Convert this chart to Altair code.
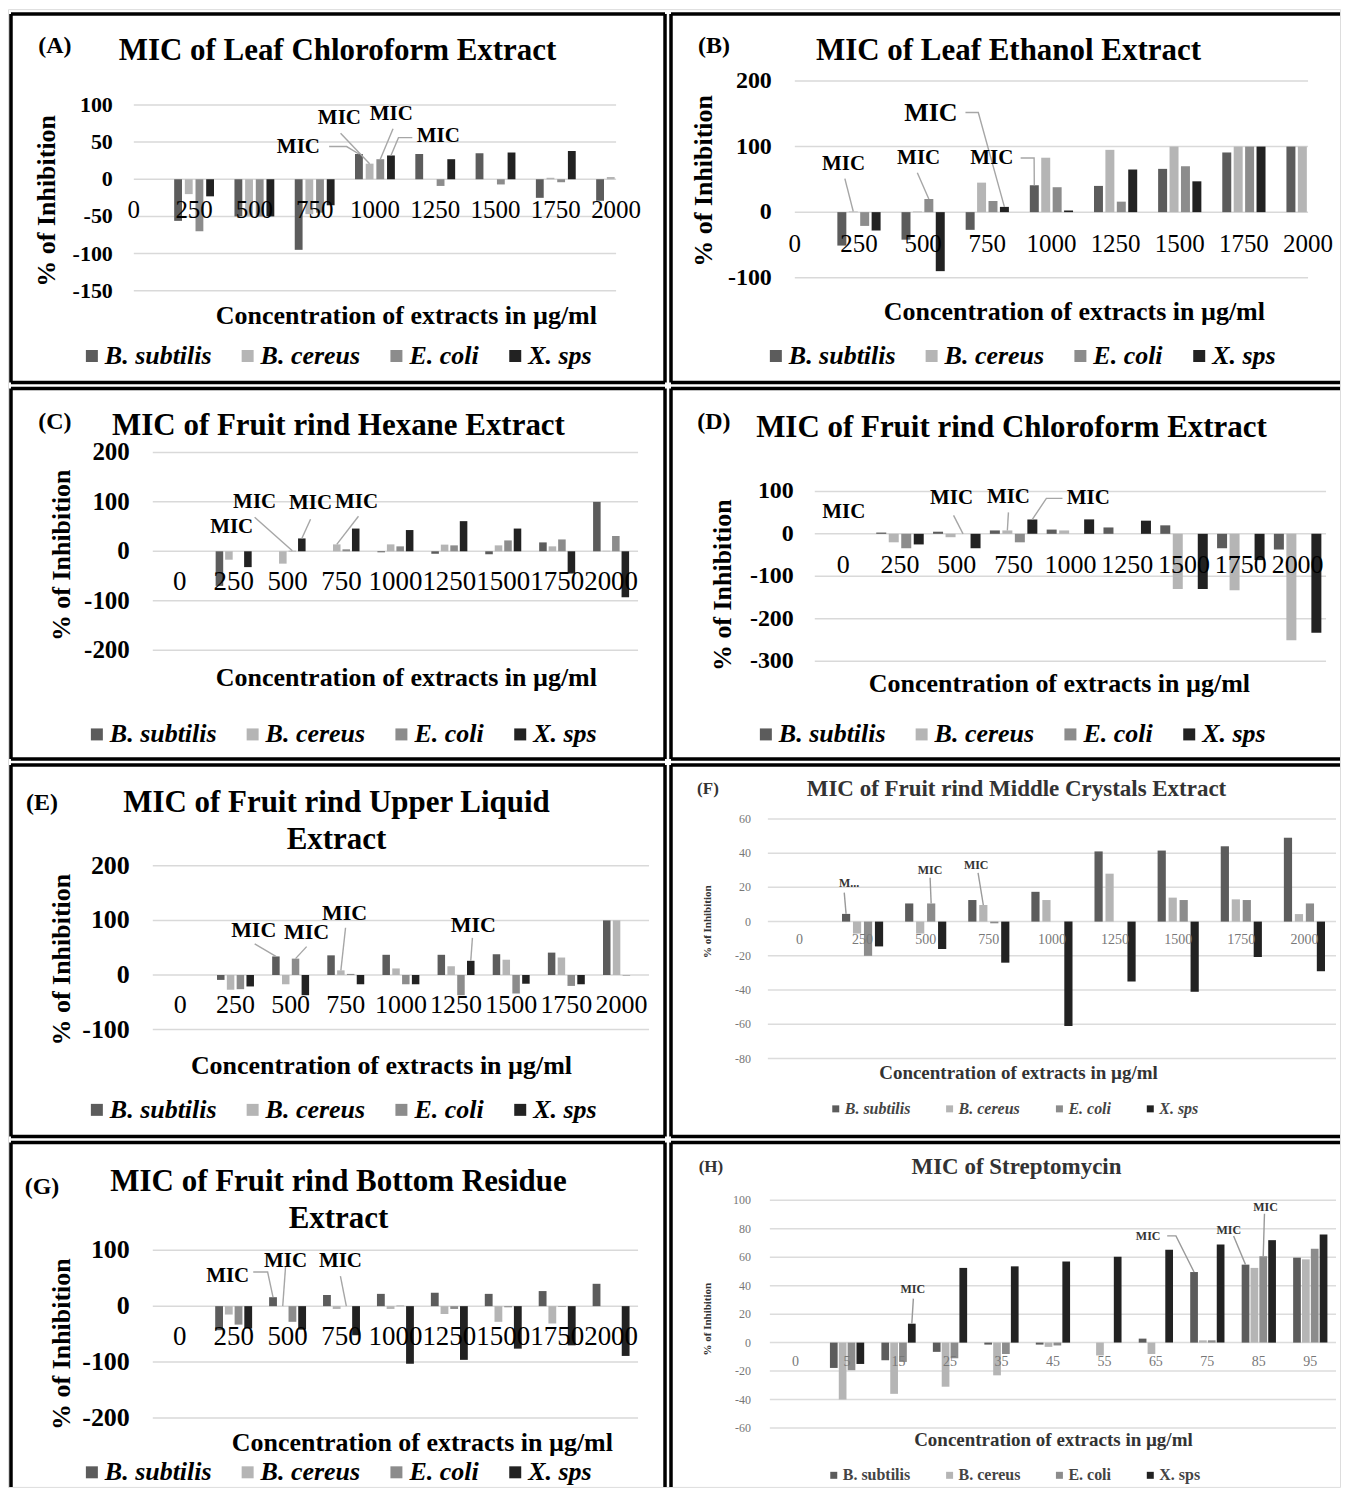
import altair as alt
import pandas as pd

FONT = "Liberation Serif"
SERIES = ["B. subtilis", "B. cereus", "E. coli", "X. sps"]
COLORS = ["#5c5c5c", "#b5b5b5", "#8c8c8c", "#222222"]
CONC = ["0", "250", "500", "750", "1000", "1250", "1500", "1750", "2000"]
STREP = ["0", "5", "15", "25", "35", "45", "55", "65", "75", "85", "95"]

# ---------------- data (% inhibition) ----------------
A_BSUB = [0, -56, -50, -95, 34, 34, 35, -25, -29]
A_BCER = [0, -20, -50, -47, 21, 0, 0, 2, 3]
A_ECOLI = [0, -70, -50, -45, 27, -9, -7, -4, 0]
A_XSPS = [0, -23, -50, -35, 32, 27, 36, 38, 0]

B_BSUB = [0, -51, -42, -27, 41, 40, 66, 91, 100]
B_BCER = [0, 1, 1, 45, 83, 95, 100, 100, 100]
B_ECOLI = [0, -21, 20, 17, 38, 16, 70, 100, 100]
B_XSPS = [0, -28, -90, 8, 2.5, 65, 47, 100, 100]

C_BSUB = [0, -70, 0, 0, -2, -5, -6, 18, 100]
C_BCER = [0, -17, -25, 14, 14, 13.5, 12, 10, 1]
C_ECOLI = [0, 0, 1, 4, 10, 12, 22, 24, 31]
C_XSPS = [0, -32, 26, 46, 43, 61, 46, -45, -93]

D_BSUB = [0, 3, 5, 8, 10, 15, 20, -34, -37]
D_BCER = [0, -20, -8, 8, 8, 0, -130, -133, -251]
D_ECOLI = [0, -34, 0, -20, 0, 0, 0, 0, 0]
D_XSPS = [0, -25, -34, 34, 34, 31, -130, -62, -233]

E_BSUB = [0, -9, 34, 36, 37, 37, 38, 41, 100]
E_BCER = [0, -27, -17, 8.5, 12, 16, 28, 32, 100]
E_ECOLI = [0, -26, 30, 2, -17, -37, -34, -20, -1]
E_XSPS = [0, -21, -37, -17, -17, 26, -16, -17, 0]

F_BSUB = [0, 4.5, 10.6, 12.6, 17.4, 41, 41.5, 44, 49]
F_BCER = [0, -7, -7, 9.7, 12.6, 28, 14, 13, 4.4]
F_ECOLI = [0, -20, 10.6, -1, 0, 0, 12.6, 12.6, 10.6]
F_XSPS = [0, -14.5, -16, -24, -61, -35, -41, -20.7, -29]

G_BSUB = [0, -43, 16, 20, 22, 24, 22, 27, 40]
G_BCER = [0, -15, 0, -5, -5, -14, -28, -31, 0]
G_ECOLI = [0, -33, -28, 0, 1, -5, -2, -1, 0]
G_XSPS = [0, -40, -42, -52, -103, -96, -76, -70, -89]

H_BSUB = [0, -17.8, -12.4, -6.5, -1.4, -1.4, 0, 2.8, 49.6, 54.8, 59.7]
H_BCER = [0, -40, -36, -31, -23, -3, -9, -8, 1.6, 52.5, 58.5]
H_ECOLI = [0, -19.4, -13.6, -11, -8, -2, 0, 0, 1.6, 60.7, 66]
H_XSPS = [0, -15, 13.3, 52.5, 53.6, 57, 60.4, 65.3, 69, 72, 76]

# MIC call-outs: (text, category, series, label x, label y, font size, leader path)
A_MIC = [("MIC", 4, 0, 2.73, 43, 21, [(3.24, 44), (3.53, 44)]),
         ("MIC", 4, 1, 3.41, 82, 21, [(3.43, 62)]),
         ("MIC", 4, 2, 4.27, 88, 21, [(4.3, 68)]),
         ("MIC", 4, 3, 5.05, 58, 21, [(4.62, 56), (4.39, 56)])]
B_MIC = [("MIC", 1, 1, 0.76, 73.5, 21, [(0.78, 51)]),
         ("MIC", 2, 2, 1.93, 82.5, 21, [(1.91, 60)]),
         ("MIC", 4, 0, 3.07, 82.5, 21, [(3.52, 82.5), (3.73, 82.5)]),
         ("MIC", 3, 3, 2.12, 151.6, 26, [(2.66, 152), (2.86, 152)])]
C_MIC = [("MIC", 2, 0, 0.963, 48.5, 21, None),
         ("MIC", 2, 2, 1.389, 99, 21, [(1.389, 69)]),
         ("MIC", 2, 3, 2.426, 97, 21, [(2.426, 65)]),
         ("MIC", 3, 1, 3.278, 99, 21, [(3.315, 71)])]
D_MIC = [("MIC", 1, 0, 0.01, 50.6, 21, None),
         ("MIC", 2, 2, 1.908, 83.5, 21, [(1.943, 43.5)]),
         ("MIC", 3, 1, 2.909, 85.9, 21, [(2.909, 50.6)]),
         ("MIC", 3, 3, 4.315, 83.5, 21, [(3.86, 83.5), (3.577, 83.5)])]
E_MIC = [("MIC", 2, 0, 1.33, 83, 22, [(1.348, 57)]),
         ("MIC", 2, 2, 2.29, 79, 22, [(2.29, 52)]),
         ("MIC", 3, 1, 2.978, 114, 22, [(2.996, 86.5)]),
         ("MIC", 5, 3, 5.315, 92, 22, [(5.297, 68)])]
F_MIC = [("M...", 1, 0, 0.787, 22.7, 12, [(0.71, 16.9)]),
         ("MIC", 2, 2, 2.07, 30.3, 12, [(2.07, 25.6)]),
         ("MIC", 3, 1, 2.8, 33.2, 12, [(2.83, 28.5)])]
G_MIC = [("MIC", 2, 0, 0.889, 53.6, 21, [(1.363, 61), (1.63, 61)]),
         ("MIC", 2, 1, 1.963, 80, 21, [(1.963, 71.4)]),
         ("MIC", 3, 2, 2.98, 80, 21, [(2.98, 53.6)])]
H_MIC = [("MIC", 2, 3, 2.278, 37.9, 12, [(2.288, 30.9)]),
         ("MIC", 8, 0, 6.85, 75, 12, [(7.22, 75), (7.39, 75)]),
         ("MIC", 9, 0, 8.417, 79.3, 12, [(8.51, 75)]),
         ("MIC", 9, 2, 9.13, 95.4, 12, [(9.11, 90.5)])]

XTITLE = "Concentration of extracts in µg/ml"
YTITLE = "% of Inhibition"

MAIN = dict(color="black", tag=24, title=31, ytitle=26, xtitle=26, ylab_w="bold",
            ylab_c="black", cat_c="black", leg=26, leg_style="italic", leg_c="black",
            sym=144, colpad=23, laboff=0, line="#a6a6a6", grid="#d9d9d9")
SMALL = dict(color="#333333", tag=17, title=23, ytitle=11, xtitle=19, ylab_w="normal",
             ylab_c="#777777", cat_c="#777777", leg=16, leg_style="italic", leg_c="#444444",
             sym=49, colpad=31, laboff=1, line="#9a9a9a", grid="#dcdcdc")
SMALL_H = dict(SMALL, leg_style="normal")

M = 8  # page margin: canvas coordinate = page coordinate - M
ONE = pd.DataFrame({"k": [0]})


def c(a):
    return a - M


def build(cfg):
    st = cfg["style"]
    cx, cy, cw, ch = cfg["cell"]
    pl, pt, pw, ph = cfg["plot"]
    x0, x1 = cfg["xdom"]
    xs = alt.Scale(domain=cfg["xdom"], range=[c(pl), c(pl + pw)], nice=False, zero=False)
    ys = alt.Scale(domain=cfg["ydom"], range=[c(pt + ph), c(pt)], nice=False, zero=False)
    vals = cfg["values"]
    pitch, bw = cfg["pitch"], cfg["bw"]
    layers = []

    # gridlines and y tick labels
    tick_df = pd.DataFrame({"v": cfg["yticks"], "lab": [str(t) for t in cfg["yticks"]],
                            "x0": x0, "x1": x1})
    layers.append(alt.Chart(tick_df).mark_rule(color=st["grid"], strokeWidth=1.5).encode(
        y=alt.Y("v:Q", scale=ys, axis=None),
        x=alt.X("x0:Q", scale=xs, axis=None), x2="x1:Q"))
    layers.append(alt.Chart(tick_df).mark_text(
        font=FONT, fontSize=cfg["ylab"], fontWeight=st["ylab_w"], color=st["ylab_c"],
        align="right", baseline="middle", dx=-cfg["ypad"]).encode(
        y=alt.Y("v:Q", scale=ys, axis=None),
        x=alt.X("x0:Q", scale=xs, axis=None), text="lab:N"))

    rows = [{"idx": i, "j": j, "series": SERIES[j], "value": v}
            for j, s in enumerate(vals) for i, v in enumerate(s)]
    bars = alt.Chart(pd.DataFrame(rows)).transform_calculate(
        lo=f"max({x0}, datum.idx + (datum.j - 1.5) * {pitch} - {bw / 2})",
        hi=f"min({x1}, datum.idx + (datum.j - 1.5) * {pitch} + {bw / 2})",
        base="0",
    ).transform_filter("datum.hi > datum.lo").mark_bar().encode(
        x=alt.X("lo:Q", scale=xs, axis=None),
        x2="hi:Q",
        y=alt.Y("value:Q", scale=ys, axis=None),
        y2="base:Q",
        color=alt.Color("series:N", scale=alt.Scale(domain=SERIES, range=COLORS),
                        legend=alt.Legend(
                            orient="none", direction="horizontal", title=None,
                            legendX=c(cfg["legend"][0]),
                            legendY=c(cfg["legend"][1]) - st["leg"] * 0.6,
                            symbolType="square", symbolSize=st["sym"], symbolStrokeWidth=0,
                            labelFont=FONT, labelFontSize=st["leg"], labelFontWeight="bold",
                            labelFontStyle=st["leg_style"], labelColor=st["leg_c"],
                            columnPadding=st["colpad"], labelOffset=st["laboff"],
                            padding=0, labelLimit=400)),
    )
    layers.append(bars)

    labels = cfg["labels"]
    cats = alt.Chart(pd.DataFrame({"idx": list(range(len(labels))), "lab": labels})
                     ).transform_calculate(base="0").mark_text(
        font=FONT, fontSize=cfg["cat"], color=st["cat_c"], dy=cfg["cat_dy"],
        baseline="middle", align="center").encode(
        x=alt.X("idx:Q", scale=xs, axis=None),
        y=alt.Y("base:Q", scale=ys, axis=None),
        text="lab:N")
    layers.append(cats)

    # MIC leader lines and labels
    lrows, trows = [], []
    for k, (txt, ci, s, lx, ly, fs, path) in enumerate(cfg["mic"]):
        trows.append({"t": txt, "lx": lx, "ly": ly, "fs": fs})
        if path:
            pts = list(path) + [(ci + (s - 1.5) * pitch, vals[s][ci])]
            for o, (px, py) in enumerate(pts):
                lrows.append({"k": k, "o": o, "px": px, "py": py})
    if lrows:
        layers.append(alt.Chart(pd.DataFrame(lrows)).mark_line(
            color=st["line"], strokeWidth=1.4).encode(
            x=alt.X("px:Q", scale=xs, axis=None),
            y=alt.Y("py:Q", scale=ys, axis=None),
            detail="k:N", order="o:Q"))
    layers.append(alt.Chart(pd.DataFrame(trows)).mark_text(
        font=FONT, fontWeight="bold", color=st["color"], baseline="middle", align="center"
    ).encode(
        x=alt.X("lx:Q", scale=xs, axis=None),
        y=alt.Y("ly:Q", scale=ys, axis=None),
        text="t:N", size=alt.Size("fs:Q", scale=None, legend=None)))

    def deco(text, ax, ay, size, angle=0):
        return alt.Chart(pd.DataFrame({"t": [text]})).mark_text(
            font=FONT, fontSize=size, fontWeight="bold", color=st["color"], angle=angle,
            align="center", baseline="middle").encode(
            text="t:N", x=alt.value(c(ax)), y=alt.value(c(ay)))

    layers.append(deco(cfg["tag"][0], cfg["tag"][1], cfg["tag"][2], st["tag"]))
    for (t, ax, ay) in cfg["title"]:
        layers.append(deco(t, ax, ay, st["title"]))
    layers.append(deco(YTITLE, cfg["ytitle"][0], cfg["ytitle"][1], st["ytitle"], angle=270))
    layers.append(deco(XTITLE, cfg["xtitle"][0], cfg["xtitle"][1], st["xtitle"]))

    # panel border
    ins = 3.0

    def rule(ax1, ay1, ax2, ay2):
        return alt.Chart(ONE).mark_rule(color="black", strokeWidth=3.5).encode(
            x=alt.value(c(ax1)), y=alt.value(c(ay1)), x2=alt.value(c(ax2)), y2=alt.value(c(ay2)))

    left, top = cx + ins, cy + ins
    right, bottom = cx + cw - ins, cy + ch - ins
    right_end = right if cfg["right"] else cx + cw
    bottom_end = bottom if cfg["bottom"] else cy + ch
    layers.append(rule(left, top, right_end, top))
    layers.append(rule(left, top, left, bottom_end))
    if cfg["right"]:
        layers.append(rule(right, top, right, bottom_end))
    if cfg["bottom"]:
        layers.append(rule(left, bottom, right_end, bottom))
    return layers


C9 = [-0.5, 8.5]
PANELS = [
    dict(style=MAIN, cell=(8, 10, 661, 375), plot=(134, 104, 483, 186), xdom=[0, 8],
         ydom=[-150, 100], yticks=[-150, -100, -50, 0, 50, 100], pitch=0.177, bw=0.13,
         values=[A_BSUB, A_BCER, A_ECOLI, A_XSPS], labels=CONC, cat=25, cat_dy=31,
         ylab=22, ypad=21, mic=A_MIC, tag=("(A)", 55, 45),
         title=[("MIC of Leaf Chloroform Extract", 338, 50)], ytitle=(47, 200),
         xtitle=(407, 315), legend=(79, 358), right=True, bottom=True),
    dict(style=MAIN, cell=(669, 10, 673, 375), plot=(796, 80, 514, 197), xdom=[0, 8],
         ydom=[-100, 200], yticks=[-100, 0, 100, 200], pitch=0.178, bw=0.14,
         values=[B_BSUB, B_BCER, B_ECOLI, B_XSPS], labels=CONC, cat=25, cat_dy=32,
         ylab=24, ypad=23, mic=B_MIC, tag=("(B)", 715, 45),
         title=[("MIC of Leaf Ethanol Extract", 1010, 50)], ytitle=(705, 180),
         xtitle=(1076, 311), legend=(764, 358), right=False, bottom=True),
    dict(style=MAIN, cell=(8, 385, 661, 377), plot=(153, 452, 486, 198), xdom=C9,
         ydom=[-200, 200], yticks=[-200, -100, 0, 100, 200], pitch=0.176, bw=0.14,
         values=[C_BSUB, C_BCER, C_ECOLI, C_XSPS], labels=CONC, cat=27, cat_dy=31,
         ylab=25, ypad=23, mic=C_MIC, tag=("(C)", 55, 422),
         title=[("MIC of Fruit rind Hexane Extract", 339, 426)], ytitle=(62, 555),
         xtitle=(407, 678), legend=(84, 737), right=True, bottom=True),
    dict(style=MAIN, cell=(669, 385, 673, 377), plot=(816, 491, 512, 170), xdom=C9,
         ydom=[-300, 100], yticks=[-300, -200, -100, 0, 100], pitch=0.22, bw=0.176,
         values=[D_BSUB, D_BCER, D_ECOLI, D_XSPS], labels=CONC, cat=26, cat_dy=31,
         ylab=24, ypad=21, mic=D_MIC, tag=("(D)", 715, 422),
         title=[("MIC of Fruit rind Chloroform Extract", 1013, 428)], ytitle=(724, 585),
         xtitle=(1061, 684), legend=(754, 737), right=False, bottom=True),
    dict(style=MAIN, cell=(8, 762, 661, 378), plot=(153, 866, 497, 164), xdom=C9,
         ydom=[-100, 200], yticks=[-100, 0, 100, 200], pitch=0.178, bw=0.136,
         values=[E_BSUB, E_BCER, E_ECOLI, E_XSPS], labels=CONC, cat=26, cat_dy=30,
         ylab=26, ypad=23, mic=E_MIC, tag=("(E)", 42, 803),
         title=[("MIC of Fruit rind Upper Liquid", 337, 803), ("Extract", 337, 840)],
         ytitle=(62, 960), xtitle=(382, 1066), legend=(84, 1113), right=True, bottom=True),
    dict(style=SMALL, cell=(669, 762, 673, 378), plot=(769, 819, 569, 240), xdom=C9,
         ydom=[-80, 60], yticks=[-80, -60, -40, -20, 0, 20, 40, 60], pitch=0.174, bw=0.13,
         values=[F_BSUB, F_BCER, F_ECOLI, F_XSPS], labels=CONC, cat=14, cat_dy=18,
         ylab=12, ypad=17, mic=F_MIC, tag=("(F)", 709, 789),
         title=[("MIC of Fruit rind Middle Crystals Extract", 1018, 789)], ytitle=(709, 922),
         xtitle=(1020, 1073), legend=(829, 1111), right=False, bottom=True),
    dict(style=MAIN, cell=(8, 1140, 661, 348), plot=(153, 1251, 486, 168), xdom=C9,
         ydom=[-200, 100], yticks=[-200, -100, 0, 100], pitch=0.18, bw=0.145,
         values=[G_BSUB, G_BCER, G_ECOLI, G_XSPS], labels=CONC, cat=27, cat_dy=31,
         ylab=26, ypad=23, mic=G_MIC, tag=("(G)", 42, 1188),
         title=[("MIC of Fruit rind Bottom Residue", 339, 1183), ("Extract", 339, 1220)],
         ytitle=(62, 1345), xtitle=(423, 1444), legend=(79, 1476), right=True, bottom=False),
    dict(style=SMALL_H, cell=(669, 1140, 673, 348), plot=(771, 1201, 567, 228),
         xdom=[-0.5, 10.5], ydom=[-60, 100], yticks=[-60, -40, -20, 0, 20, 40, 60, 80, 100],
         pitch=0.172, bw=0.15, values=[H_BSUB, H_BCER, H_ECOLI, H_XSPS], labels=STREP,
         cat=14, cat_dy=19, ylab=12, ypad=19, mic=H_MIC, tag=("(H)", 712, 1168),
         title=[("MIC of Streptomycin", 1018, 1168)], ytitle=(709, 1320),
         xtitle=(1055, 1441), legend=(827, 1478), right=False, bottom=False),
]

all_layers = []
for p in PANELS:
    all_layers.extend(build(p))

chart = alt.layer(*all_layers).resolve_scale(
    x="independent", y="independent", color="independent", size="independent"
).resolve_legend(color="independent", size="independent").properties(
    width=1334, height=1480, padding=0
).configure_view(strokeWidth=0, stroke="transparent").configure(background="white")

chart.save("out.html", embed_options={"renderer": "svg", "actions": False})
